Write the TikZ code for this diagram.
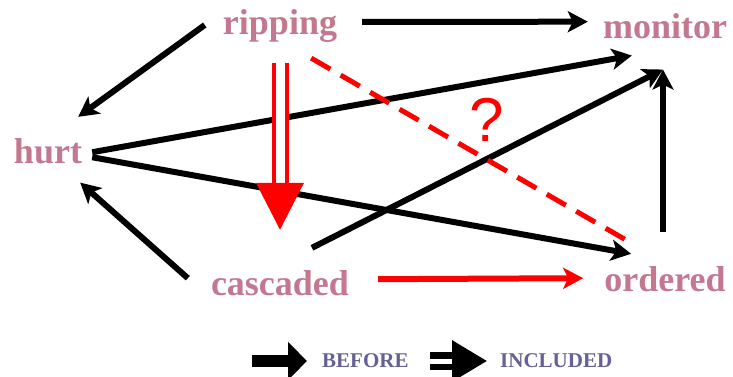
\documentclass[tikz,border=0pt]{standalone}
\usepackage{fontspec}
\setmainfont{Liberation Serif}
\setsansfont{Liberation Sans}
\usepackage{tikz}
\usetikzlibrary{positioning, arrows.meta, calc}
\definecolor{termpink}{RGB}{196,120,144}
\definecolor{legendslate}{RGB}{102,96,150}

\begin{document}
\begin{tikzpicture}[x=1pt, y=-1pt,
    term/.style={inner sep=0pt, anchor=base, text=termpink,
                 font=\fontsize{36}{40}\selectfont\bfseries},
    legend/.style={inner sep=0pt, anchor=west, text=legendslate,
                   font=\fontsize{21}{24}\selectfont\bfseries},
    beforearrow/.style={line width=6pt, -{Stealth[length=20pt, width=21pt, inset=5pt]}},
    redarrow/.style={beforearrow, red},
    includedarrow/.style={red, line width=4pt, double=white, double distance=9pt,
                          -{Triangle[length=47pt, width=47pt]}},
    unknownlink/.style={red, line width=5pt, dash pattern=on 22pt off 12pt}]
  \useasboundingbox (0,0) rectangle (733,377);

  % terms
  \node[term] (ripping)  at (280,35)  {ripping};
  \node[term] (monitor)  at (665,39)  {monitor};
  \node[term] (hurt)     at (48,163)  {hurt};
  \node[term] (cascaded) at (280,295) {cascaded};
  \node[term] (ordered)  at (665,291) {ordered};

  % before relations
  \draw[beforearrow] ([xshift=25pt, yshift=4.5pt]ripping.east) -- ([xshift=-15pt, yshift=5pt]monitor.west);
  \draw[beforearrow] ([xshift=-18pt, yshift=1.5pt]ripping.west) -- ([xshift=-4pt, yshift=21pt]hurt.north east);
  \draw[beforearrow] ([xshift=10pt, yshift=-1.5pt]hurt.east) -- ([xshift=29pt, yshift=-16pt]monitor.south west);
  \draw[beforearrow] ([xshift=10pt, yshift=-6.5pt]hurt.east) -- ([xshift=27pt, yshift=12pt]ordered.north west);
  \draw[beforearrow] ([xshift=-23pt, yshift=4.5pt]cascaded.west) -- ([xshift=-2pt, yshift=-19pt]hurt.south east);
  \draw[beforearrow] ([xshift=32pt, yshift=22pt]cascaded.north) -- ([xshift=-2pt, yshift=-30pt]monitor.south);
  \draw[beforearrow] ([xshift=-2pt, yshift=34pt]ordered.north) -- ([xshift=-2pt, yshift=-30pt]monitor.south);
  \draw[redarrow] ([xshift=29pt, yshift=3.5pt]cascaded.east) -- ([xshift=-21pt, yshift=0.5pt]ordered.west);

  % included relation
  \draw[includedarrow] ([yshift=-20pt]ripping.south) -- ([yshift=40pt]cascaded.north);

  % uncertain relation
  \draw[unknownlink] ([xshift=-26pt, yshift=-15pt]ripping.south east) -- ([xshift=25pt, yshift=24pt]ordered.north west);
  \node[text=red, inner sep=0pt, font=\sffamily\fontsize{62}{64}\selectfont] (query) at (487,120) {?};

  % legend
  \node[legend] (before)   at (322,361) {BEFORE};
  \node[legend] (included) at (500,361) {INCLUDED};
  \draw[line width=12pt, -{Triangle[length=19pt, width=37pt]}] ([xshift=-70pt]before.west) -- ([xshift=-15pt]before.west);
  \draw[line width=6.5pt, double=white, double distance=5pt, -{Triangle[length=35pt, width=40pt]}]
    ([xshift=-70pt]included.west) -- ([xshift=-13pt]included.west);
\end{tikzpicture}
\end{document}
